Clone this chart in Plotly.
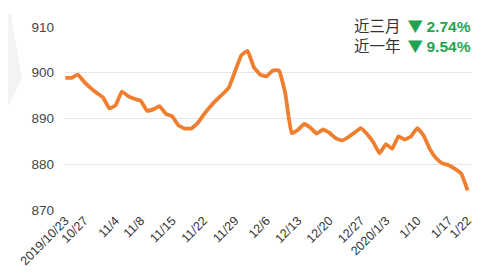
import plotly.graph_objects as go

# trading dates (categories)
dates = [
    "2019/10/23", "2019/10/24", "2019/10/25", "2019/10/27", "2019/10/29", "2019/10/30",
    "2019/10/31", "2019/11/1", "2019/11/4", "2019/11/5", "2019/11/6", "2019/11/7",
    "2019/11/8", "2019/11/11", "2019/11/12", "2019/11/13", "2019/11/14", "2019/11/15",
    "2019/11/18", "2019/11/19", "2019/11/20", "2019/11/21", "2019/11/22", "2019/11/25",
    "2019/11/26", "2019/11/27", "2019/11/28", "2019/11/29", "2019/12/2", "2019/12/3",
    "2019/12/4", "2019/12/5", "2019/12/6", "2019/12/9", "2019/12/10", "2019/12/11",
    "2019/12/12", "2019/12/13", "2019/12/16", "2019/12/17", "2019/12/18", "2019/12/19",
    "2019/12/20", "2019/12/23", "2019/12/24", "2019/12/25", "2019/12/26", "2019/12/27",
    "2019/12/30", "2019/12/31", "2020/1/2", "2020/1/3", "2020/1/6", "2020/1/7",
    "2020/1/8", "2020/1/9", "2020/1/10", "2020/1/13", "2020/1/14", "2020/1/15",
    "2020/1/16", "2020/1/17", "2020/1/20", "2020/1/21", "2020/1/22",
]

values = [
    898.9, 898.9, 899.6, 898.0, 896.7, 895.6, 894.6, 892.2, 892.9, 895.9,
    894.9, 894.3, 893.9, 891.7, 892.0, 892.7, 891.0, 890.5, 888.5, 887.8,
    887.8, 888.9, 890.8, 892.5, 894.0, 895.3, 896.7, 900.3, 903.8, 904.8,
    901.2, 899.6, 899.2, 900.5, 900.5, 895.5, 886.8, 887.5, 888.8, 888.0,
    886.7, 887.6, 886.9, 885.7, 885.2, 885.9, 886.9, 887.9, 886.6, 884.8,
    882.4, 884.4, 883.4, 886.1, 885.4, 886.1, 887.9, 886.3, 883.3, 881.3,
    880.2, 879.8, 879.0, 877.9, 874.3,
]

tick_dates = [
    "2019/10/23", "2019/10/27", "2019/11/4", "2019/11/8", "2019/11/15", "2019/11/22",
    "2019/11/29", "2019/12/6", "2019/12/13", "2019/12/20", "2019/12/27", "2020/1/3",
    "2020/1/10", "2020/1/17", "2020/1/22",
]
tick_labels = [
    "2019/10/23", "10/27", "11/4", "11/8", "11/15", "11/22", "11/29", "12/6",
    "12/13", "12/20", "12/27", "2020/1/3", "1/10", "1/17", "1/22",
]

y_ticks = [870, 880, 890, 900, 910]

stats_labels = ["近三月", "近一年"]
stats_values = ["2.74%", "9.54%"]

GREEN = "#1FA552"
FONT = "Liberation Sans, Arial, Noto Sans CJK SC, sans-serif"

fig = go.Figure()
fig.add_trace(go.Scatter(
    x=dates, y=values, mode="lines",
    line=dict(color="#EF7F2F", width=3.8, shape="spline", smoothing=0.3),
    hoverinfo="skip", showlegend=False,
))

# faint watermark wedge at the left edge
fig.add_shape(type="path", xref="paper", yref="paper",
              path="M -0.141 1.07 L -0.133 1.07 L -0.106 0.72 L -0.141 0.56 Z",
              fillcolor="#F3F3F3", line=dict(width=0), layer="below")

rows = [
    (f"{lab}  <span style='color:{GREEN}'><b>▼ </b></span>"
     f"<span style='color:{GREEN};font-family:Liberation Sans'><b>{val}</b></span>")
    for lab, val in zip(stats_labels, stats_values)
]
fig.add_annotation(
    xref="paper", yref="paper", x=1.0, y=0.958, xanchor="right", yanchor="middle",
    align="right", text="<br>".join(rows),
    showarrow=False, bgcolor="white", borderpad=0,
    font=dict(family="Noto Sans CJK SC, Liberation Sans, sans-serif", size=15.5, color="#333333"),
)

# the page body adds an 8px margin, so the figure is sized to fit the window
fig.update_layout(
    width=473, height=267,
    margin=dict(l=57, r=9, t=19, b=65),
    paper_bgcolor="white", plot_bgcolor="white",
    font=dict(family=FONT, color="#444444"),
    xaxis=dict(
        type="category", range=[-0.05, 64.7], automargin=False,
        tickmode="array", tickvals=tick_dates, ticktext=tick_labels,
        tickangle=-45, tickfont=dict(size=12.5, color="#333333"),
        showgrid=False, zeroline=False, showline=False, ticks="",
    ),
    yaxis=dict(
        range=[870, 910], tickmode="array", tickvals=y_ticks, automargin=False,
        tickfont=dict(size=13.5, color="#444444"),
        showgrid=True, gridcolor="#E6E6E6", gridwidth=1,
        zeroline=False, showline=False, ticks="", ticklabelstandoff=10,
    ),
)

fig.write_html("out.html")
